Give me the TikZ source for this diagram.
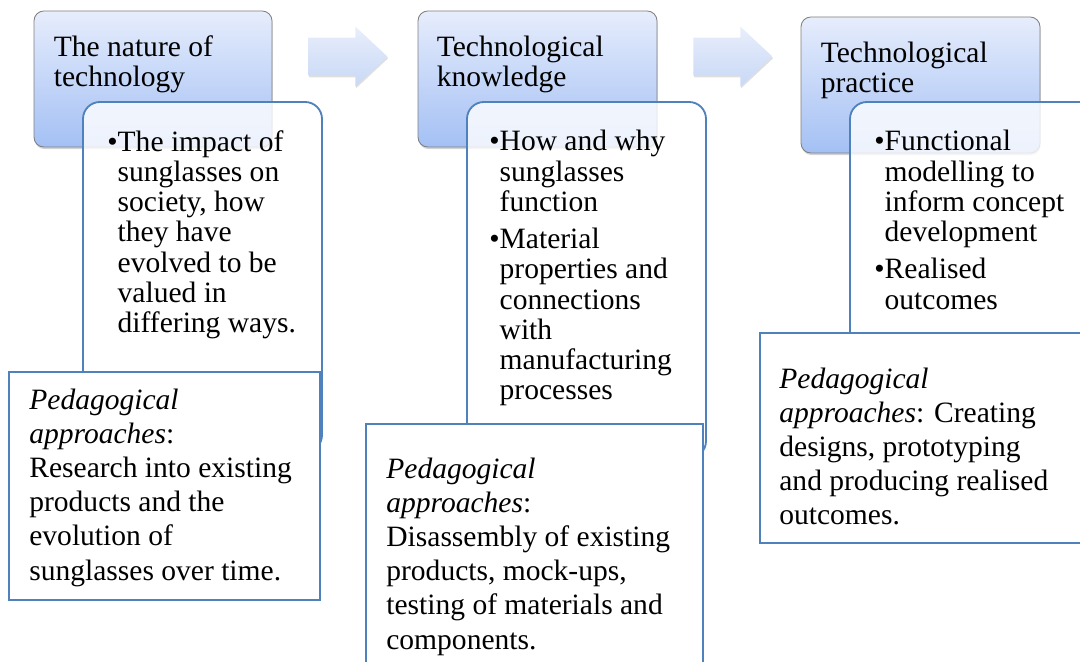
\documentclass[tikz,border=0pt]{standalone}
\usepackage{fontspec}
\setmainfont{Liberation Serif}
\usetikzlibrary{fit,shadows}
\definecolor{hdrtop}{HTML}{E6EDFC}
\definecolor{hdrbot}{HTML}{A4C0F4}
\definecolor{hdrline}{HTML}{7F7F7F}
\definecolor{boxline}{HTML}{4F81BD}
\definecolor{arrtop}{HTML}{E8EEFB}
\definecolor{arrbot}{HTML}{C8D8F6}
\newcommand{\bulpt}{\textbullet}
\newcommand{\bulgap}{\hphantom{\textbullet}}

\begin{document}
\begin{tikzpicture}[x=0.025cm, y=-0.025cm,
    hdr/.style={draw=hdrline, line width=0.6pt, rounded corners=7pt, top color=hdrtop, bottom color=hdrbot, inner sep=0pt,
        drop shadow={opacity=0.35, shadow xshift=0.5pt, shadow yshift=-1.5pt}},
    bulbox/.style={draw=boxline, line width=1.3pt, rounded corners=12pt, fill=white, fill opacity=0.8, inner sep=0pt},
    pedbox/.style={draw=boxline, line width=1.3pt, fill=white, inner sep=0pt},
    txt/.style={anchor=north west, align=left, inner sep=0pt, font=\fontsize{21}{21.5}\selectfont},
    pedtxt/.style={txt, font=\fontsize{21}{24.2}\selectfont},
    arr/.style={top color=arrtop, bottom color=arrbot, drop shadow={opacity=0.25, shadow xshift=0.5pt, shadow yshift=-1.2pt}}]
    \useasboundingbox (0,0) rectangle (1080,662);
    \clip (0,0) rectangle (1080,662);

    % the nature of technology
    \node[hdr, fit={(34,11) (272,147)}] (h1) {};
    \node[txt] (h1t) at ([shift={(20,25)}]h1.north west) {The nature of\\technology};
    \node[bulbox, fit={(83,102) (322,452)}] (b1) {};
    \node[txt] (b1t) at ([shift={(25,29)}]b1.north west) {\bulpt The impact of\\\bulgap sunglasses on\\\bulgap society, how\\\bulgap they have\\\bulgap evolved to be\\\bulgap valued in\\\bulgap differing ways.};
    \node[pedbox, fit={(9,372) (320,600)}] (p1) {};
    \node[pedtxt] (p1t) at ([shift={(21,18)}]p1.north west) {{\itshape Pedagogical}\\{\itshape approaches}:\\Research into existing\\products and the\\evolution of\\sunglasses over time.};

    % technological knowledge
    \node[hdr, fit={(418,11) (657,147)}] (h2) {};
    \node[txt] (h2t) at ([shift={(19,25)}]h2.north west) {Technological\\knowledge};
    \node[bulbox, fit={(467,102) (706,458)}] (b2) {};
    \node[txt] (b2t) at ([shift={(23,29)}]b2.north west) {\bulpt How and why\\\bulgap sunglasses\\\bulgap function\\[5pt]\bulpt Material\\\bulgap properties and\\\bulgap connections\\\bulgap with\\\bulgap manufacturing\\\bulgap processes};
    \node[pedbox, fit={(366,424) (703,690)}] (p2) {};
    \node[pedtxt] (p2t) at ([shift={(21,35)}]p2.north west) {{\itshape Pedagogical}\\{\itshape approaches}:\\Disassembly of existing\\products, mock-ups,\\testing of materials and\\components.};

    % technological practice
    \node[hdr, fit={(801,17) (1040,153)}] (h3) {};
    \node[txt] (h3t) at ([shift={(20,25)}]h3.north west) {Technological\\practice};
    \node[bulbox, fit={(850,102) (1110,380)}] (b3) {};
    \node[txt] (b3t) at ([shift={(25,29)}]b3.north west) {\bulpt Functional\\\bulgap modelling to\\\bulgap inform concept\\\bulgap development\\[5pt]\bulpt Realised\\\bulgap outcomes};
    \node[pedbox, fit={(760,333) (1110,543)}] (p3) {};
    \node[pedtxt] (p3t) at ([shift={(20,36)}]p3.north west) {{\itshape Pedagogical}\\{\itshape approaches}: Creating\\designs, prototyping\\and producing realised\\outcomes.};

    % block arrows between the headers
    \foreach \n in {h1,h2}
        \shade[arr] ([shift={(36,27)}]\n.north east) -- ++(47,0) -- ++(0,-11) -- ++(32,30) -- ++(-32,30) -- ++(0,-11) -- ++(-47,0) -- cycle;
\end{tikzpicture}
\end{document}
